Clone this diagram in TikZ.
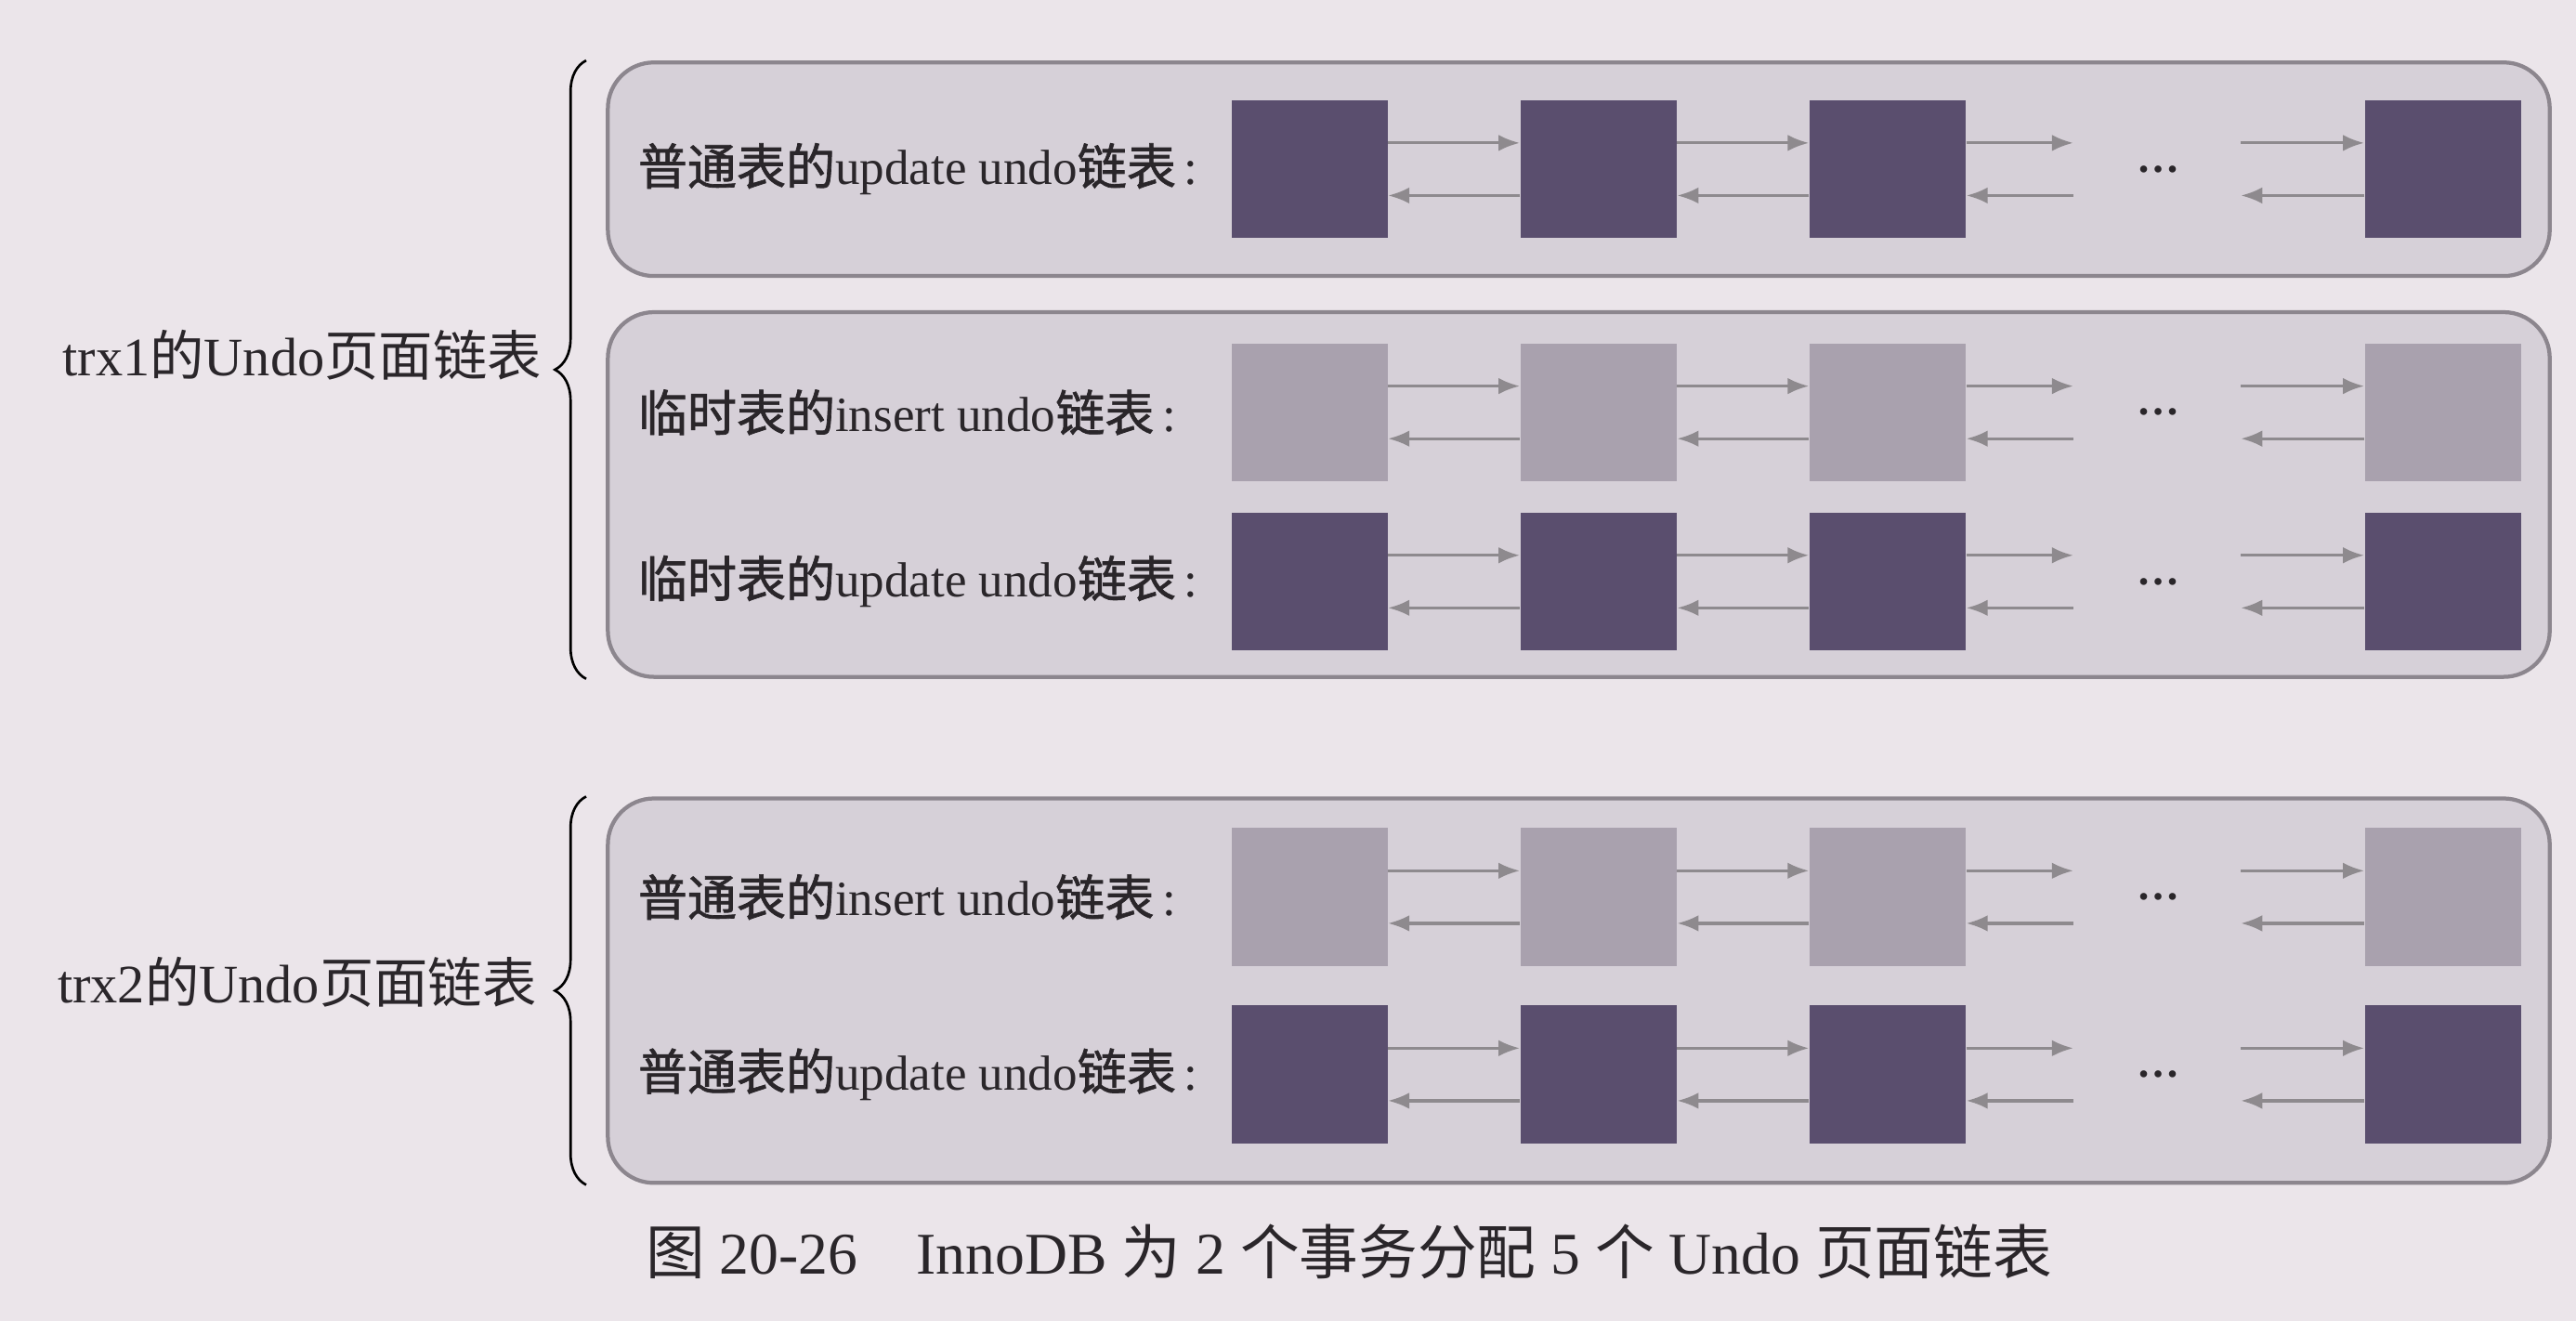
\documentclass[tikz,border=0pt]{standalone}
\usepackage{fontspec}
\setmainfont{Liberation Serif}
\newfontfamily\cjk{Noto Sans CJK SC}
\newfontfamily\cjkb{Noto Sans CJK SC}[FakeBold=1.3]
\usetikzlibrary{arrows.meta,decorations.pathreplacing}

\definecolor{paper}{HTML}{EBE5EA}
\definecolor{grpfill}{HTML}{D6D0D8}
\definecolor{grpline}{HTML}{8C868E}
\definecolor{darkpg}{HTML}{5A4E6E}
\definecolor{lightpg}{HTML}{A9A1AE}
\definecolor{arrowc}{HTML}{8E8A8E}
\definecolor{ink}{HTML}{2A262A}

\newcommand\pagerow[4]{%
  \node[rowlabel] (#1lab) at (388,#2) {#4};
  \node[#3] (#1a) at (797,#2) {};
  \node[#3] (#1b) at (973,#2) {};
  \node[#3] (#1c) at (1149,#2) {};
  \node[dotsnode] (#1d) at (1314,#2) {\textbf{…}};
  \node[#3] (#1e) at (1487,#2) {};
  \coordinate (#1l) at (1262,#2);
  \coordinate (#1r) at (1364,#2);
  \draw[link] ([yshift=8pt]#1a.east) -- ([yshift=8pt]#1b.west);
  \draw[link] ([yshift=-8pt]#1b.west) -- ([yshift=-8pt]#1a.east);
  \draw[link] ([yshift=8pt]#1b.east) -- ([yshift=8pt]#1c.west);
  \draw[link] ([yshift=-8pt]#1c.west) -- ([yshift=-8pt]#1b.east);
  \draw[link] ([yshift=8pt]#1c.east) -- ([yshift=8pt]#1l);
  \draw[link] ([yshift=-8pt]#1l) -- ([yshift=-8pt]#1c.east);
  \draw[link] ([yshift=8pt]#1r) -- ([yshift=8pt]#1e.west);
  \draw[link] ([yshift=-8pt]#1e.west) -- ([yshift=-8pt]#1r);
}

\begin{document}
\begin{tikzpicture}[x=0.5pt,y=-0.5pt,
  group/.style={draw=grpline, fill=grpfill, line width=1.2pt, rounded corners=14pt,
                inner sep=0, minimum width=591pt},
  pg/.style={minimum width=47.5pt, minimum height=42pt, inner sep=0, draw=none},
  darkp/.style={pg, fill=darkpg},
  lightp/.style={pg, fill=lightpg},
  rowlabel/.style={anchor=west, font=\fontsize{15}{18}\selectfont, text=ink, inner sep=0},
  dotsnode/.style={font=\fontsize{13}{15}\selectfont, text=ink, inner sep=0},
  link/.style={draw=arrowc, line width=0.9pt, -{Latex[length=6.5pt,width=5pt]}},
  trxlabel/.style={anchor=east, font=\fontsize{16.5}{20}\selectfont, text=ink, inner sep=0},
  bracestyle/.style={draw=black, line width=0.75pt, decorate,
                     decoration={brace, amplitude=9.5pt}},
  caption/.style={font=\fontsize{18}{22}\selectfont, text=ink, inner sep=0}]

\useasboundingbox (0,0) rectangle (1568,804);
\fill[paper] (0,0) rectangle (1568,804);

% group boxes
\node[group, minimum height=65pt] (g1) at (961,103) {};
\node[group, minimum height=111pt] (g2) at (961,301) {};
\node[group, minimum height=117pt] (g3) at (961,603) {};

% rows
\pagerow{ra}{103}{darkp}{{\cjkb 普通表的}update undo{\cjkb 链表}\,:}
\pagerow{rb}{251}{lightp}{{\cjkb 临时表的}insert undo{\cjkb 链表}\,:}
\pagerow{rc}{354}{darkp}{{\cjkb 临时表的}update undo{\cjkb 链表}\,:}
\pagerow{rd}{546}{lightp}{{\cjkb 普通表的}insert undo{\cjkb 链表}\,:}
\pagerow{re}{654}{darkp}{{\cjkb 普通表的}update undo{\cjkb 链表}\,:}

% braces
\draw[bracestyle] ([xshift=-6pt]g2.south west) -- ([xshift=-6pt]g1.north west);
\draw[bracestyle] ([xshift=-6pt]g3.south west) -- ([xshift=-6pt]g3.north west);

% transaction labels
\node[trxlabel] (t1) at (330,216) {trx1{\cjk 的}Undo{\cjk 页面链表}};
\node[trxlabel] (t2) at (327,598) {trx2{\cjk 的}Undo{\cjk 页面链表}};

% caption
\node[caption] (cap) at (821,762) {{\cjk 图} 20-26\quad InnoDB {\cjk 为} 2 {\cjk 个事务分配} 5 {\cjk 个} Undo {\cjk 页面链表}};
\end{tikzpicture}
\end{document}
